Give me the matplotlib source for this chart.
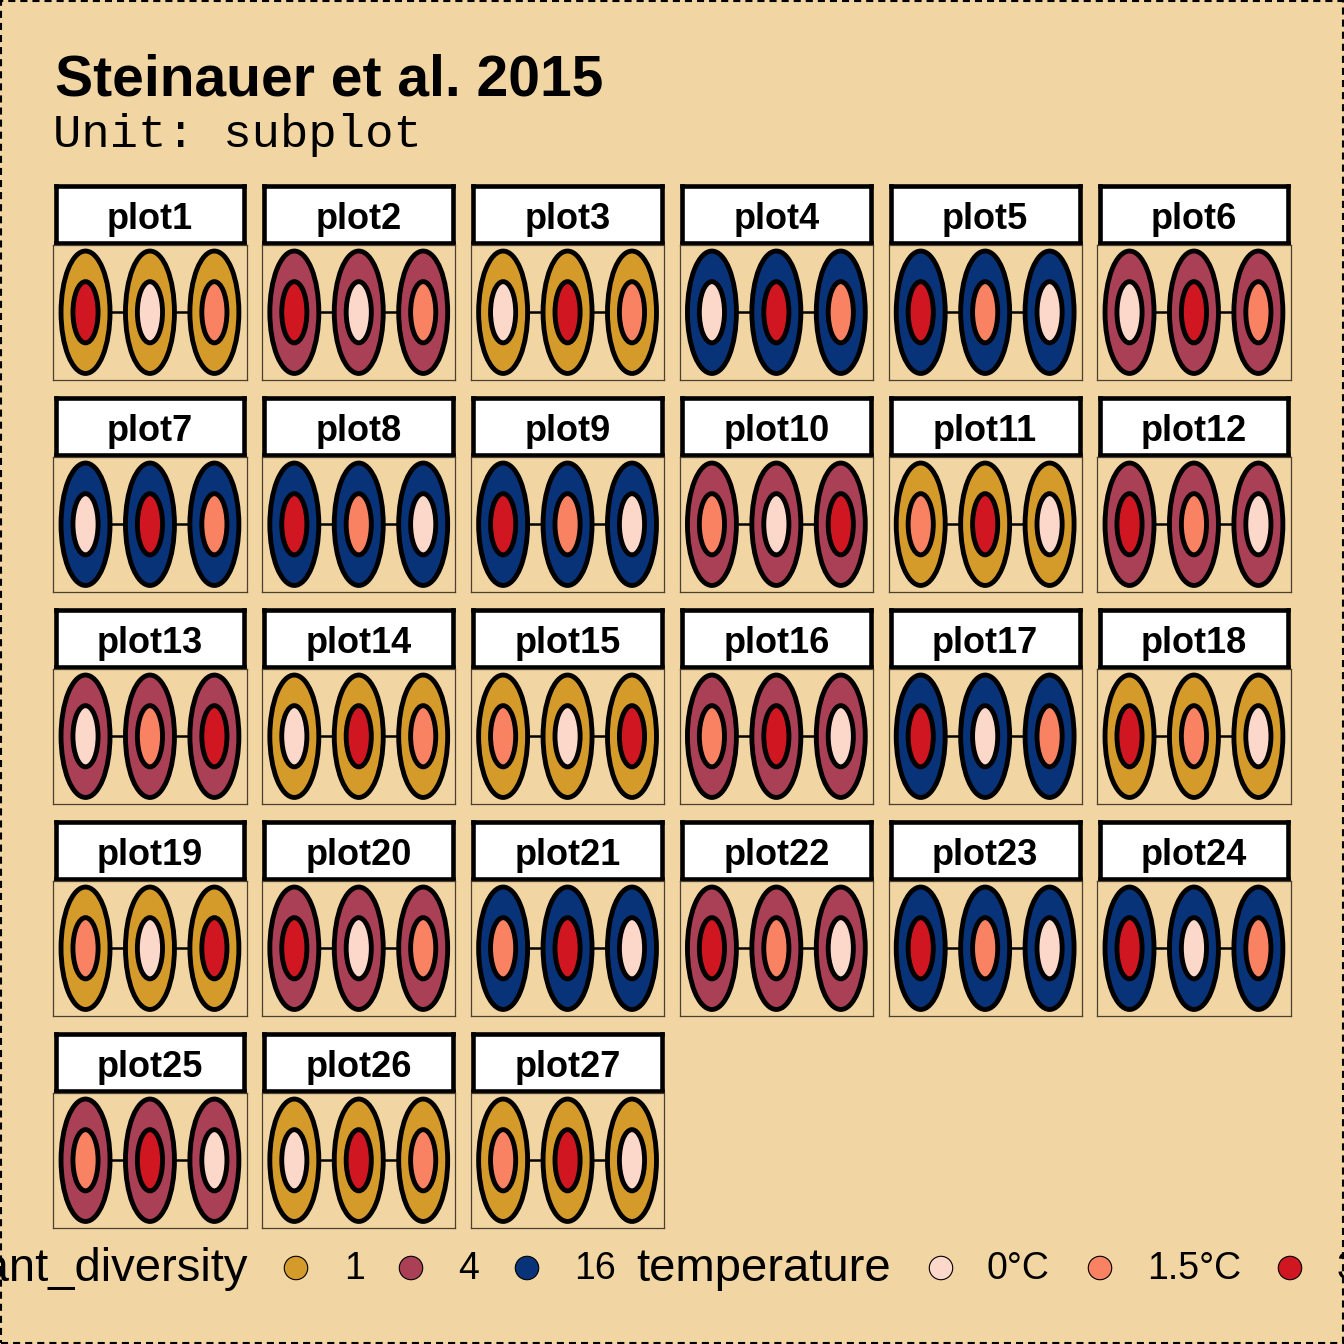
import matplotlib
matplotlib.use("Agg")
import matplotlib.pyplot as plt
from matplotlib.patches import Ellipse, Rectangle

# ---- data -------------------------------------------------------------
plot_names = ["plot1", "plot2", "plot3", "plot4", "plot5", "plot6",
              "plot7", "plot8", "plot9", "plot10", "plot11", "plot12",
              "plot13", "plot14", "plot15", "plot16", "plot17", "plot18",
              "plot19", "plot20", "plot21", "plot22", "plot23", "plot24",
              "plot25", "plot26", "plot27"]
plant_diversity = [1, 4, 1, 16, 16, 4,
                   16, 16, 16, 4, 1, 4,
                   4, 1, 1, 4, 16, 1,
                   1, 4, 16, 4, 16, 16,
                   4, 1, 1]
subplot_pos = [1, 2, 3]
temperature = [[3, 0, 1.5], [3, 0, 1.5], [0, 3, 1.5], [0, 3, 1.5], [3, 1.5, 0], [0, 3, 1.5],
               [0, 3, 1.5], [3, 1.5, 0], [3, 1.5, 0], [1.5, 0, 3], [1.5, 3, 0], [3, 1.5, 0],
               [0, 1.5, 3], [0, 3, 1.5], [1.5, 0, 3], [1.5, 3, 0], [3, 0, 1.5], [3, 1.5, 0],
               [1.5, 0, 3], [3, 0, 1.5], [1.5, 3, 0], [3, 1.5, 0], [3, 1.5, 0], [3, 0, 1.5],
               [1.5, 3, 0], [0, 3, 1.5], [1.5, 3, 0]]

div_levels = [1, 4, 16]
div_labels = ["1", "4", "16"]
div_colors = ["#D49B2A", "#AA4056", "#083378"]
temp_levels = [0, 1.5, 3]
temp_labels = ["0°C", "1.5°C", "3°C"]
temp_colors = ["#FCD8CA", "#F98262", "#D01620"]

BG = "#F1D5A3"
W = H = 1344.0
SANS = "Liberation Sans"

fig = plt.figure(figsize=(13.44, 13.44), dpi=100, facecolor=BG)


def fx(px):
    return px / W


def fy(py):
    return 1 - py / H


# title / subtitle
fig.text(fx(55), fy(95), "Steinauer et al. 2015", fontsize=41, fontweight="bold",
         family=SANS, ha="left", va="baseline")
fig.text(fx(53), fy(147), "Unit: subplot", fontsize=34, family="Liberation Mono",
         ha="left", va="baseline")

# facets
ncol = 6
col_left, col_pitch, panel_w = 53.3, 208.8, 193.3
row_top, row_pitch = 183.5, 212.0
strip_h, panel_h = 61.5, 134.5

for i, name in enumerate(plot_names):
    r, c = divmod(i, ncol)
    left = col_left + c * col_pitch
    top = row_top + r * row_pitch

    # strip
    sax = fig.add_axes([fx(left + 2.2), fy(top + strip_h - 2.2), fx(panel_w - 4.4), (strip_h - 4.4) / H])
    sax.set_facecolor("white")
    sax.set_xticks([])
    sax.set_yticks([])
    for sp in sax.spines.values():
        sp.set_linewidth(3.3)
        sp.set_color("black")
    sax.text(0.5, 0.24, name, transform=sax.transAxes, ha="center", va="baseline",
             fontsize=26, fontweight="bold", family=SANS)

    # panel
    ax = fig.add_axes([fx(left), fy(top + strip_h + panel_h), fx(panel_w), panel_h / H])
    ax.set_facecolor(BG)
    ax.set_xlim(0.5, 3.5)
    ax.set_ylim(0, 1)
    ax.set_xticks([])
    ax.set_yticks([])
    for sp in ax.spines.values():
        sp.set_linewidth(0.9)
        sp.set_color("#4a4030")

    outer = div_colors[div_levels.index(plant_diversity[i])]
    ax.plot(subplot_pos, [0.5] * len(subplot_pos), color="black", lw=1.8, zorder=1)
    for x, t in zip(subplot_pos, temperature[i]):
        ax.add_patch(Ellipse((x, 0.5), 0.76, 0.91, facecolor=outer,
                             edgecolor="black", lw=3.5, zorder=2))
        ax.add_patch(Ellipse((x, 0.5), 0.39, 0.455, facecolor=temp_colors[temp_levels.index(t)],
                             edgecolor="black", lw=3.5, zorder=3))

# legend (bottom, spills over figure edges like the original)
lax = fig.add_axes([0, fy(1310), 1, 80 / H])
lax.set_xlim(0, W)
lax.set_ylim(1310, 1230)
lax.axis("off")
ly = 1268
lax.text(248, ly + 1, "plant_diversity", fontsize=34, family=SANS, ha="right", va="center")
div_key_x = [296, 411, 527]
div_lab_x = [344, 458, 574]
lax.scatter(div_key_x, [ly] * 3, s=285, c=div_colors, edgecolors="black", linewidths=0.8)
for x, lab in zip(div_lab_x, div_labels):
    lax.text(x, ly + 1, lab, fontsize=27, family=SANS, ha="left", va="center")
lax.text(636, ly + 1, "temperature", fontsize=34, family=SANS, ha="left", va="center")
temp_key_x = [941, 1100, 1290]
temp_lab_x = [987, 1147, 1337]
lax.scatter(temp_key_x, [ly] * 3, s=285, c=temp_colors, edgecolors="black", linewidths=0.8)
for x, lab in zip(temp_lab_x, temp_labels):
    lax.text(x, ly + 1, lab, fontsize=27, family=SANS, ha="left", va="center")

# dashed outer border
fig.patches.append(Rectangle((fx(1), fy(1343)), fx(1342), 1342 / H, transform=fig.transFigure,
                             fill=False, edgecolor="black", lw=1.5, ls=(0, (3.4, 2.4))))

fig.savefig("out.png", dpi=100, facecolor=BG)
